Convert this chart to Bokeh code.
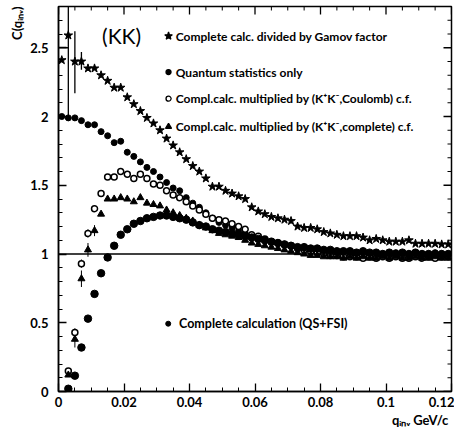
import numpy as np
from bokeh.plotting import figure
from bokeh.models import Range1d, Span, Label, Title, SingleIntervalTicker, CustomJSTickFormatter
from bokeh.embed import file_html
from bokeh.resources import INLINE

nan = float("nan")

q = [0.001, 0.003, 0.005, 0.007, 0.009, 0.011, 0.013, 0.015, 0.017, 0.019,
     0.021, 0.023, 0.025, 0.027, 0.029, 0.031, 0.033, 0.035, 0.037, 0.039,
     0.041, 0.043, 0.045, 0.047, 0.049, 0.051, 0.053, 0.055, 0.057, 0.059,
     0.061, 0.063, 0.065, 0.067, 0.069, 0.071, 0.073, 0.075, 0.077, 0.079,
     0.081, 0.083, 0.085, 0.087, 0.089, 0.091, 0.093, 0.095, 0.097, 0.099,
     0.101, 0.103, 0.105, 0.107, 0.109, 0.111, 0.113, 0.115, 0.117, 0.119]

gamov = [2.41, 2.59, 2.40, 2.40, 2.35, 2.35, 2.30, 2.26, 2.21, 2.21,
         2.14, 2.09, 2.04, 1.99, 1.95, 1.90, 1.84, 1.79, 1.74, 1.69,
         1.64, 1.60, 1.55, 1.49, 1.49, 1.46, 1.44, 1.42, 1.40, 1.34,
         1.31, 1.29, 1.27, 1.26, 1.25, 1.24, 1.20, 1.19, 1.19, 1.18,
         1.16, 1.15, 1.14, 1.13, 1.13, 1.13, 1.12, 1.10, 1.11, 1.10,
         1.09, 1.09, 1.09, 1.10, 1.075, 1.075, 1.075, 1.075, 1.07, 1.07]

qs_only = [2.00, 1.99, 1.99, 1.97, 1.94, 1.94, 1.89, 1.86, 1.81, 1.82,
           1.74, 1.71, 1.67, 1.63, 1.60, 1.56, 1.52, 1.48, 1.46, 1.41,
           1.37, 1.34, 1.30, 1.26, 1.23, 1.21, 1.19, 1.17, 1.15, 1.13,
           1.12, 1.10, 1.09, 1.08, 1.07, 1.06, 1.05, 1.05, 1.04, 1.03,
           1.03, 1.02, 1.02, 1.02, 1.01, 1.01, 1.01, 1.00, 1.01, 1.00,
           1.00, 1.01, 1.00, 1.00, 1.01, 1.00, 1.00, 1.01, 1.00, 1.00]

coulomb = [nan, 0.15, 0.43, 0.93, 1.15, 1.33, 1.44, 1.56, 1.56, 1.60,
           1.58, 1.55, 1.58, 1.55, 1.51, 1.50, 1.46, 1.43, 1.41, 1.38,
           1.35, 1.32, 1.29, 1.26, 1.25, 1.24, 1.22, 1.20, 1.18, 1.14,
           1.13, 1.11, 1.09, 1.08, 1.07, 1.06, 1.04, 1.03, 1.02, 1.01,
           1.00, 0.99, 0.99, 0.98, 0.98, 0.98, 0.97, 0.98, 0.97, 0.98,
           0.97, 0.98, 0.97, 0.97, 0.98, 0.97, 0.98, 0.97, 0.98, 0.98]

complete_cf = [nan, 0.12, 0.38, 0.82, 1.03, 1.17, 1.29, 1.40, 1.40, 1.41,
               1.40, 1.38, 1.41, 1.37, 1.36, 1.35, 1.32, 1.30, 1.28, 1.26,
               1.24, 1.21, 1.19, 1.17, 1.15, 1.14, 1.13, 1.12, 1.10, 1.08,
               1.07, 1.06, 1.05, 1.04, 1.03, 1.02, 1.01, 1.00, 0.99, 0.99,
               0.98, 0.98, 0.98, 0.97, 0.98, 0.97, 0.98, 0.97, 0.97, 0.98,
               0.97, 0.98, 0.97, 0.97, 0.98, 0.97, 0.97, 0.98, 0.97, 0.97]

qs_fsi = [nan, 0.02, 0.115, 0.32, 0.53, 0.71, 0.86, 0.975, 1.06, 1.14,
          1.18, 1.22, 1.24, 1.26, 1.27, 1.28, 1.28, 1.27, 1.26, 1.25,
          1.23, 1.21, 1.20, 1.18, 1.17, 1.16, 1.15, 1.14, 1.13, 1.12,
          1.11, 1.10, 1.09, 1.08, 1.07, 1.06, 1.05, 1.05, 1.04, 1.04,
          1.03, 1.03, 1.02, 1.02, 1.02, 1.01, 1.02, 1.01, 1.01, 1.00,
          1.01, 1.00, 1.01, 1.00, 1.01, 1.00, 1.00, 1.00, 1.00, 1.00]

# visible error bars
gamov_err_q = [0.003, 0.005, 0.007]
gamov_err_lo = [1.99, 2.17, 2.34]
gamov_err_hi = [2.90, 2.62, 2.47]
gamov_hbar = (0.0, 0.003, 2.50)

coul_err_q = [0.005, 0.007, 0.009, 0.011]
coul_err_lo = [0.40, 0.90, 1.12, 1.31]
coul_err_hi = [0.46, 0.96, 1.18, 1.35]
cf_err_q = [0.005, 0.007, 0.009, 0.011]
cf_err_lo = [0.32, 0.76, 0.98, 1.13]
cf_err_hi = [0.44, 0.88, 1.08, 1.21]

legend_texts = ["Complete calc. divided by Gamov factor",
                "Quantum statistics only",
                "Compl.calc. multiplied by (K\u207aK\u207b,Coulomb) c.f.",
                "Compl.calc. multiplied by (K\u207aK\u207b,complete) c.f.",
                "Complete calculation (QS+FSI)"]
x_title = "q\u1d62\u2099\u1d65  GeV/c"
y_title = "C(q\u1d62\u2099\u1d65)"

# axis tick positions (major)
x_major = [0.0, 0.02, 0.04, 0.06, 0.08, 0.10, 0.12]
y_major = [0.0, 0.5, 1.0, 1.5, 2.0, 2.5]

X0, X1, Y0, Y1 = 0.0, 0.12, 0.0, 2.8
FONT = "Lato"

p = figure(width=454, height=427, x_range=Range1d(X0, X1), y_range=Range1d(Y0, Y1),
           output_backend="svg", toolbar_location=None,
           min_border_left=58, min_border_right=3, min_border_top=6, min_border_bottom=24)
p.xgrid.visible = False
p.ygrid.visible = False
p.outline_line_color = "black"
p.outline_line_width = 1.5
p.background_fill_color = "white"
p.border_fill_color = "white"

fmt = CustomJSTickFormatter(code="return String(Number(tick.toFixed(3)));")

for ax in (p.xaxis[0], p.yaxis[0]):
    ax.axis_line_color = "black"
    ax.axis_line_width = 1.5
    ax.major_tick_in = 8
    ax.major_tick_out = 0
    ax.minor_tick_in = 4
    ax.minor_tick_out = 0
    ax.major_tick_line_width = 1.3
    ax.minor_tick_line_width = 1.0
    ax.major_label_text_font = FONT
    ax.major_label_text_font_style = "bold"
    ax.major_label_text_font_size = "13px"
    ax.major_label_text_color = "black"
    ax.formatter = fmt

p.xaxis.ticker = SingleIntervalTicker(interval=0.02, num_minor_ticks=4)
p.yaxis.ticker = SingleIntervalTicker(interval=0.5, num_minor_ticks=5)
p.xaxis[0].major_label_standoff = 5
p.yaxis[0].major_label_standoff = 10

# axis titles at the ends of the axes
p.add_layout(Title(text=x_title, align="right", text_font=FONT, text_font_style="bold",
                   text_font_size="13px", text_color="black", standoff=0), "below")
p.add_layout(Title(text=y_title, align="right", text_font=FONT, text_font_style="bold",
                   text_font_size="13px", text_color="black", standoff=6), "left")

# mirrored ticks on top and right edges of the frame
xs_major = np.array(x_major)
xs_minor = np.array([v for v in np.linspace(X0, X1, 25) if not np.any(np.isclose(v, xs_major))])
ys_major = np.array(y_major)
ys_minor = np.array([v for v in np.linspace(Y0, Y1, 29) if not np.any(np.isclose(v, ys_major))])
px_per_y = 386.0 / (Y1 - Y0)
px_per_x = 393.0 / (X1 - X0)
p.segment(x0=xs_major, x1=xs_major, y0=Y1, y1=Y1 - 8 / px_per_y, line_color="black", line_width=1.3)
p.segment(x0=xs_minor, x1=xs_minor, y0=Y1, y1=Y1 - 4 / px_per_y, line_color="black", line_width=1.0)
p.segment(x0=X1, x1=X1 - 8 / px_per_x, y0=ys_major, y1=ys_major, line_color="black", line_width=1.3)
p.segment(x0=X1, x1=X1 - 4 / px_per_x, y0=ys_minor, y1=ys_minor, line_color="black", line_width=1.0)

p.add_layout(Span(location=1.0, dimension="width", line_color="black", line_width=1.5))

# error bars
p.segment(x0=gamov_err_q, x1=gamov_err_q, y0=gamov_err_lo, y1=gamov_err_hi, line_color="black", line_width=1.3)
p.segment(x0=[gamov_hbar[0]], x1=[gamov_hbar[1]], y0=[gamov_hbar[2]], y1=[gamov_hbar[2]], line_color="black", line_width=1.3)
p.segment(x0=coul_err_q, x1=coul_err_q, y0=coul_err_lo, y1=coul_err_hi, line_color="black", line_width=1)
p.segment(x0=cf_err_q, x1=cf_err_q, y0=cf_err_lo, y1=cf_err_hi, line_color="black", line_width=1)

# series
p.scatter(q, gamov, marker="star", size=9, color="black")
p.scatter(q, qs_only, marker="circle", size=6, color="black")
p.scatter(q, coulomb, marker="circle", size=6, fill_color="white", line_color="black", line_width=1.5)
p.scatter(q, complete_cf, marker="triangle", size=7, color="black")
p.scatter(q, qs_fsi, marker="circle", size=7.5, color="black")

# legend drawn as text inside the plot
leg_x = 0.0336
leg_tx = 0.0358
leg_y = [2.585, 2.323, 2.13, 1.926]
leg_markers = [("star", 8, "black", "black"), ("circle", 5, "black", "black"),
               ("circle", 5, "white", "black"), ("triangle", 6, "black", "black")]
for (m, s, fc, lc), yy, t in zip(leg_markers, leg_y, legend_texts[:4]):
    p.scatter([leg_x], [yy], marker=m, size=s, fill_color=fc, line_color=lc, line_width=1.3)
    p.add_layout(Label(x=leg_tx, y=yy, text=t, text_font=FONT, text_font_style="bold",
                       text_font_size="12px", text_color="black",
                       text_baseline="middle", text_align="left"))
p.scatter([0.0335], [0.493], marker="circle", size=5, color="black")
p.add_layout(Label(x=0.0368, y=0.493, text=legend_texts[4], text_font=FONT, text_font_style="bold",
                   text_font_size="12.5px", text_color="black",
                   text_baseline="middle", text_align="left"))

p.add_layout(Label(x=0.0133, y=2.587, text="(KK)", text_font=FONT, text_font_size="21px",
                   text_color="black", text_baseline="middle", text_align="left"))

open("out.html", "w").write(file_html(p, INLINE))
